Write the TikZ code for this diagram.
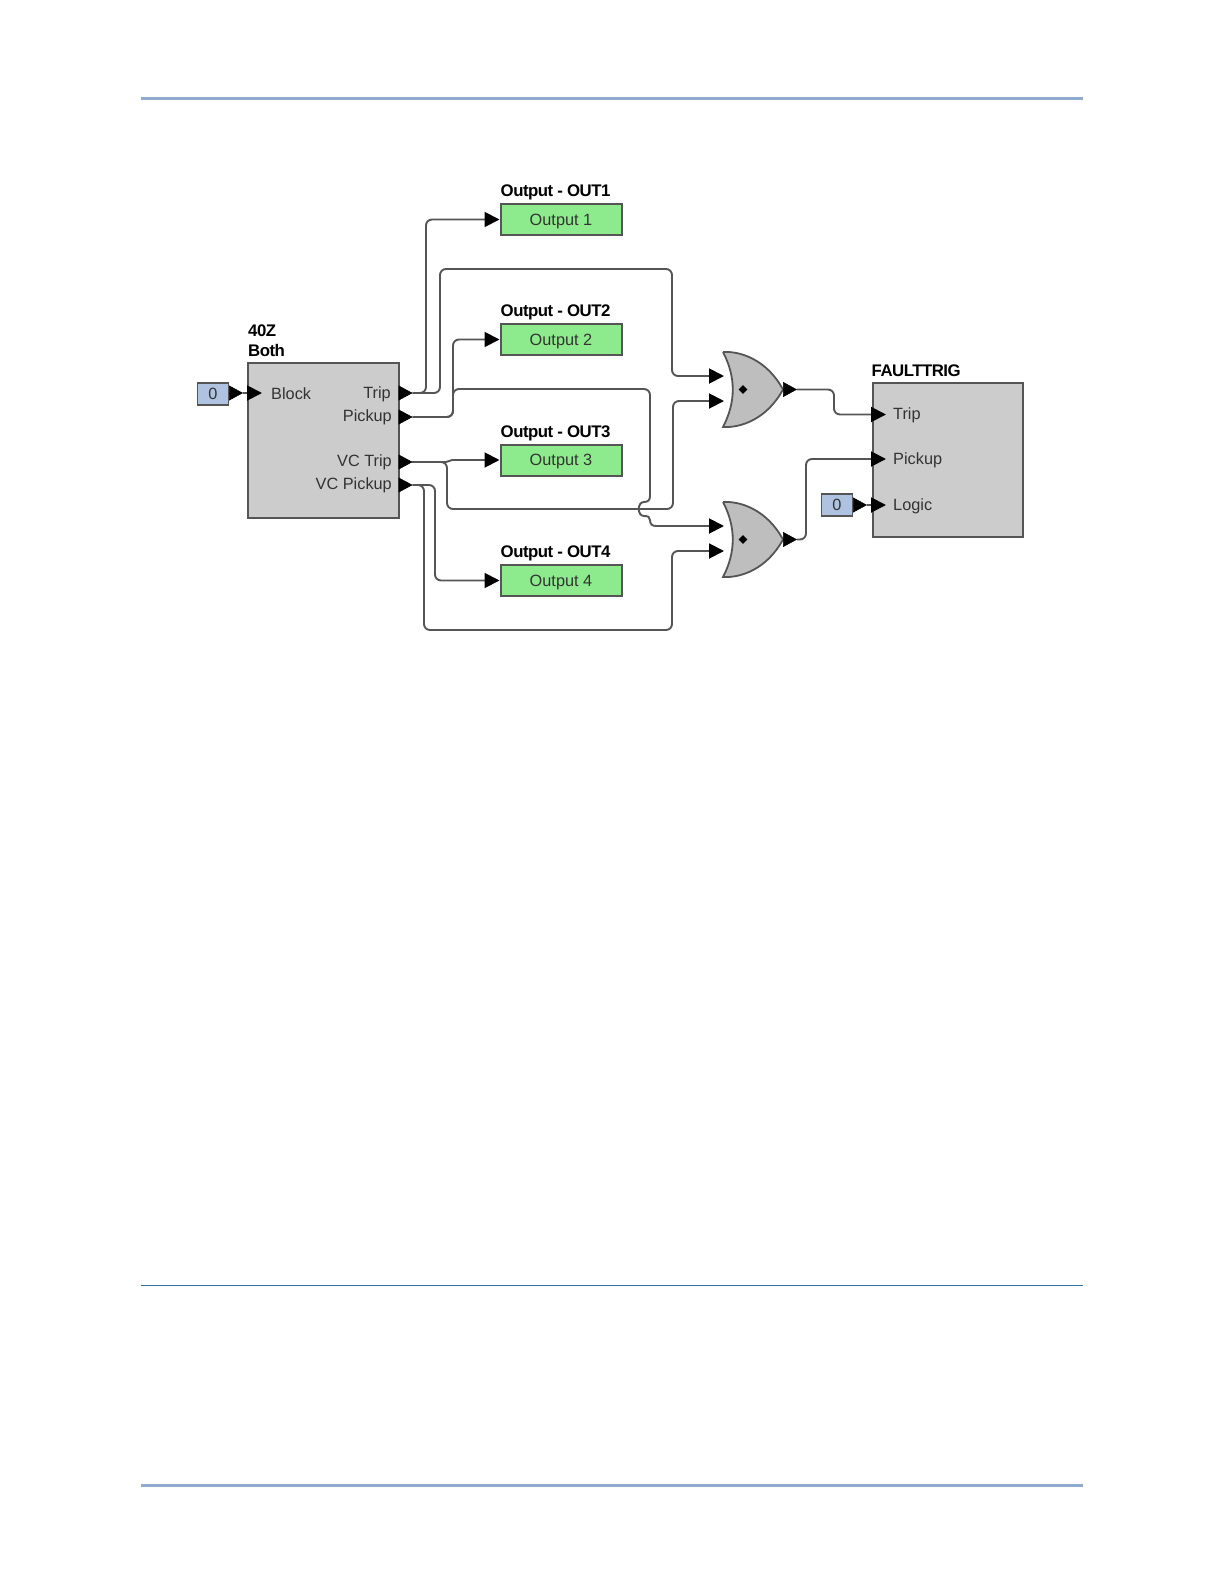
\documentclass[tikz,border=0pt]{standalone}
\usepackage{fontspec}
\setmainfont{Liberation Sans}
\newfontfamily\tightbold[LetterSpace=-3]{Liberation Sans Bold}
\usetikzlibrary{arrows.meta,shapes.geometric}
\definecolor{wire}{HTML}{555555}
\definecolor{blockgray}{HTML}{CCCCCC}
\definecolor{gategray}{HTML}{BEBEBE}
\definecolor{outgreen}{HTML}{8DEB8D}
\definecolor{constblue}{HTML}{AFC3E0}
\definecolor{ruleblue}{HTML}{8FAACC}
\definecolor{ruledark}{HTML}{2E75A0}
\definecolor{txt}{HTML}{333333}
\tikzset{
  x=1pt,y=-1pt,
  wirepath/.style={draw=wire,line width=1.9pt,rounded corners=6pt},
  curvepath/.style={draw=wire,line width=1.9pt,line cap=round},
  tipped/.style={wirepath,-{Triangle[length=15pt,width=15pt,color=black]}},
  curvetipped/.style={curvepath,-{Triangle[length=15pt,width=15pt,color=black]}},
  stub/.style={draw=black,line width=0.5pt,-{Triangle[length=14pt,width=15pt,color=black]}},
  blockbox/.style={draw=wire,line width=2pt,fill=blockgray,minimum width=#1,inner sep=0pt,anchor=north west},
  outbox/.style={draw=wire,line width=2pt,fill=outgreen,minimum width=121pt,minimum height=31pt,inner sep=0pt,text=txt,text depth=-1.5pt,font=\fontsize{16.3}{18}\selectfont},
  constbox/.style={draw=wire,line width=1.6pt,fill=constblue,minimum width=31pt,minimum height=22pt,inner sep=0pt,text=txt,font=\fontsize{16.3}{18}\selectfont},
  lab/.style={inner sep=0pt,text=txt,font=\fontsize{16.3}{18}\selectfont},
  title/.style={inner sep=0pt,anchor=west,text=black,font=\fontsize{16.8}{18}\tightbold},
  gatedot/.style={diamond,fill=black,inner sep=0pt,minimum size=9pt},
  gateshape/.style={draw=wire,line width=1.8pt,fill=gategray},
}
\newcommand{\orgate}[3]{% name, left x, top y
  \path[gateshape] (#2,#3) .. controls (#2+18,#3-1) and (#2+44,#3+8) .. (#2+60,#3+37.5)
    .. controls (#2+44,#3+67) and (#2+18,#3+76) .. (#2,#3+75)
    .. controls (#2+13,#3+50) and (#2+13,#3+25) .. (#2,#3);
  \node[gatedot] (#1) at (#2+20,#3+37.5) {};
  \coordinate (#1inA) at (#2+1,#3+24);
  \coordinate (#1inB) at (#2+1,#3+49);
  \coordinate (#1out) at (#2+60,#3+37.5);
  \coordinate (#1outtip) at (#2+74,#3+37.5);
}
\begin{document}
\begin{tikzpicture}
\useasboundingbox (0,0) rectangle (1224,1584);
\fill[white] (0,0) rectangle (1224,1584);
% page rules
\coordinate (ruleAl) at (140.5,98.5); \coordinate (ruleAr) at (1083,98.5);
\coordinate (ruleBl) at (140.5,1285.5); \coordinate (ruleBr) at (1083,1285.5);
\coordinate (ruleCl) at (140.5,1485.5); \coordinate (ruleCr) at (1083,1485.5);
\draw[ruleblue,line width=3pt] (ruleAl) -- (ruleAr);
\draw[ruledark,line width=1.1pt] (ruleBl) -- (ruleBr);
\draw[ruleblue,line width=3pt] (ruleCl) -- (ruleCr);

% blocks
\node[blockbox=151pt,minimum height=154.5pt] (main) at (247,362) {};
\node[blockbox=150.5pt,minimum height=154pt] (fault) at (871.5,382) {};
\node[outbox] (o1) at (561,219.5) {Output 1};
\node[outbox] (o2) at (561,339.5) {Output 2};
\node[outbox] (o3) at (561,460) {Output 3};
\node[outbox] (o4) at (561,580.5) {Output 4};
\node[constbox] (c1) at (213,394) {0};
\node[constbox] (c2) at (837,505) {0};
\orgate{ga}{723}{352}
\orgate{gb}{723}{502}

% titles
\node[title] (t1) at (500.5,192.5) {Output - OUT1};
\node[title] (t2) at (500.5,312.5) {Output - OUT2};
\node[title] (t3) at (500.5,433) {Output - OUT3};
\node[title] (t4) at (500.5,553) {Output - OUT4};
\node[title] (t5) at (248,331) {40Z};
\node[title] (t6) at (248,350) {Both};
\node[title] (t7) at (871.5,371) {FAULTTRIG};

% port labels
\node[lab,anchor=west] (lb) at (271,394) {Block};
\node[lab,anchor=east] (lt) at (391,394) {Trip};
\node[lab,anchor=east] (lp) at (392,417) {Pickup};
\node[lab,anchor=east] (lvt) at (392,462) {VC Trip};
\node[lab,anchor=east] (lvp) at (392,485) {VC Pickup};
\node[lab,anchor=west] (rt) at (893,415) {Trip};
\node[lab,anchor=west] (rp) at (893,460) {Pickup};
\node[lab,anchor=west] (rl) at (893,506) {Logic};

% port coordinates
\coordinate (pTrip) at (398.5,393); \coordinate (pTripT) at (412.5,393);
\coordinate (pPick) at (398.5,417); \coordinate (pPickT) at (412.5,417);
\coordinate (pVT) at (398.5,462); \coordinate (pVTT) at (412.5,462);
\coordinate (pVP) at (398.5,485); \coordinate (pVPT) at (412.5,485);
\coordinate (inBlock) at (262,393);
\coordinate (inTrip) at (886,414.5);
\coordinate (inPick) at (886,459);
\coordinate (inLogic) at (886,505);

% wires
\draw[tipped] (pTripT) -- (426,393) |- (o1.west);
\draw[tipped] (pTripT) -- (440,393) -- (440,269) -- (672,269) |- (gainA);
\draw[tipped] (pPickT) -- (453,417) |- (o2.west);
\draw[wirepath] (pPickT) -- (453,417) -- (453,389) -- (650,389) -- (650,496);
\draw[curvetipped] (650,496)
   .. controls (650,500) and (648,502) .. (644,502)
   .. controls (637,502) and (637,516) .. (644,516)
   .. controls (648,516) and (650,517) .. (650,520)
   .. controls (650,524) and (652,526) .. (656,526) -- (gbinA);
\draw[curvetipped] (pVTT) -- (446,462) .. controls (449,462) and (449,460) .. (452,460) -- (o3.west);
\draw[tipped] (pVTT) -- (447,462) -- (447,509) -- (673,509) |- (gainB);
\draw[tipped] (pVPT) -- (435,485) |- (o4.west);
\draw[tipped] (pVPT) -- (424,485) -- (424,630) -- (672,630) |- (gbinB);
\draw[tipped] (gaouttip) -- (834,389.5) |- (inTrip);
\draw[tipped] (gbouttip) -- (806,539.5) |- (inPick);
\coordinate (c1t) at (243,393);
\coordinate (c2t) at (867,505);
\draw[tipped] (c1t) -- (inBlock);
\draw[tipped] (c2t) -- (inLogic);

% source triangles
\draw[stub] (pTrip) -- (pTripT);
\draw[stub] (pPick) -- (pPickT);
\draw[stub] (pVT) -- (pVTT);
\draw[stub] (pVP) -- (pVPT);
\draw[stub] (gaout) -- (gaouttip);
\draw[stub] (gbout) -- (gbouttip);
\draw[stub] (c1.east |- c1t) -- (c1t);
\draw[stub] (c2.east) -- (c2t);
\end{tikzpicture}
\end{document}
